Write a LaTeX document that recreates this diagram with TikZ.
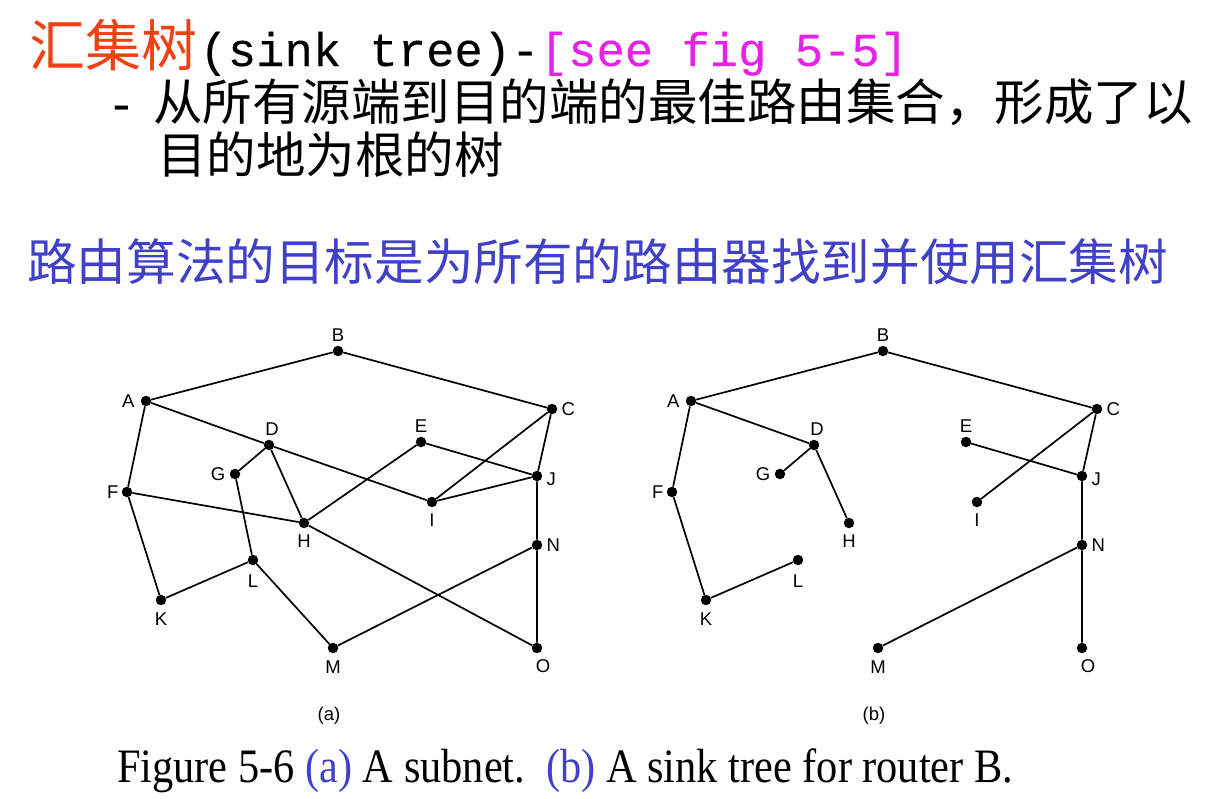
\documentclass[tikz,border=0pt]{standalone}
\usepackage{fontspec}
\usepackage{graphicx}
\setmainfont{Liberation Serif}
\newfontfamily\cjk{Noto Sans CJK SC}
\newfontfamily\monof[FakeBold=0.25]{Liberation Mono}
\newfontfamily\helv{Liberation Sans}
\definecolor{titlered}{RGB}{240,64,20}
\definecolor{magen}{RGB}{232,32,232}
\definecolor{goalblue}{RGB}{64,64,200}
\tikzset{
  dot/.style={circle,fill=black,inner sep=0pt,minimum size=10.5pt},
  lab/.style={font=\helv\fontsize{18.5}{18.5}\selectfont,inner sep=0pt,label distance=4pt},
  edge/.style={line width=1.7pt},
  txt/.style={inner sep=0pt,anchor=base west},
}
\newcommand\graphnodes{%
  \node[dot,label={[lab]above:B}] (B) at (338,351) {};
  \node[dot,label={[lab,label distance=6pt]left:A}] (A) at (146,401) {};
  \node[dot,label={[lab]right:C}] (C) at (552,409) {};
  \node[dot,label={[lab,xshift=3pt]above:D}] (D) at (269,445) {};
  \node[dot,label={[lab,label distance=4pt]above:E}] (E) at (421,442) {};
  \node[dot,label={[lab]left:G}] (G) at (235,474) {};
  \node[dot,label={[lab,yshift=-3pt,label distance=4pt]right:J}] (J) at (537,476) {};
  \node[dot,label={[lab,label distance=3pt]left:F}] (F) at (127,492) {};
  \node[dot,label={[lab,label distance=6pt]below:I}] (I) at (432,502) {};
  \node[dot,label={[lab,label distance=6pt]below:H}] (H) at (304,523) {};
  \node[dot,label={[lab]right:N}] (N) at (537,545) {};
  \node[dot,label={[lab,label distance=9pt]below:L}] (L) at (253,560) {};
  \node[dot,label={[lab,label distance=7pt]below:K}] (K) at (161,600) {};
  \node[dot,label={[lab,label distance=7pt]below:M}] (M) at (333,648) {};
  \node[dot,label={[lab,label distance=6pt,xshift=6pt]below:O}] (O) at (537,648) {};
}
\begin{document}
\begin{tikzpicture}[x=1pt,y=-1pt]
\useasboundingbox (0,0) rectangle (1217,798);
% heading texts
\node[txt] (t1) at (29,66) {\cjk\fontsize{56}{60}\selectfont\color{titlered}汇集树};
\node[txt,anchor=base west] (t2) at ([xshift=2pt]t1.base east) {\monof\fontsize{47.2}{50}\selectfont (sink tree)-};
\node[txt,anchor=base west] (t3) at (t2.base east) {\monof\fontsize{47.2}{50}\selectfont\color{magen}[see fig 5-5]};
\node[txt] (dash) at (107,120) {\monof\fontsize{47.2}{50}\selectfont -};
\node[txt] (l2) at (153,120) {\cjk\fontsize{49.5}{52}\selectfont 从所有源端到目的端的最佳路由集合，形成了以};
\node[txt] (l3) at (157,173) {\cjk\fontsize{49.5}{52}\selectfont 目的地为根的树};
\node[txt] (l4) at (27,280) {\cjk\fontsize{49.6}{52}\selectfont\color{goalblue}路由算法的目标是为所有的路由器找到并使用汇集树};
% graph (a)
\begin{scope}
\graphnodes
\draw[edge] (A)--(B) (B)--(C) (A)--(D) (D)--(I) (A)--(F) (F)--(K) (F)--(H)
  (K)--(L) (G)--(L) (D)--(G) (D)--(H) (L)--(M) (H)--(E) (E)--(J) (H)--(O)
  (C)--(I) (C)--(J) (I)--(J) (J)--(N) (N)--(M) (N)--(O);
\end{scope}
\node[font=\helv\fontsize{18.5}{18.5}\selectfont] (capa) at (329,716) {(a)};
% graph (b)
\begin{scope}[xshift=545pt,name prefix=b-]
\graphnodes
\draw[edge] (A)--(B) (B)--(C) (A)--(D) (D)--(G) (D)--(H) (A)--(F) (F)--(K)
  (K)--(L) (C)--(I) (C)--(J) (E)--(J) (J)--(N) (N)--(M) (N)--(O);
\end{scope}
\node[font=\helv\fontsize{18.5}{18.5}\selectfont] (capb) at (874,716) {(b)};
% caption
\node[txt] (cap) at (117,782) {\resizebox{896pt}{\height}{\fontsize{48}{50}\selectfont Figure 5-6 {\color{goalblue}(a)} A subnet.\ \ {\color{goalblue}(b)} A sink tree for router B.}};
\end{tikzpicture}
\end{document}
